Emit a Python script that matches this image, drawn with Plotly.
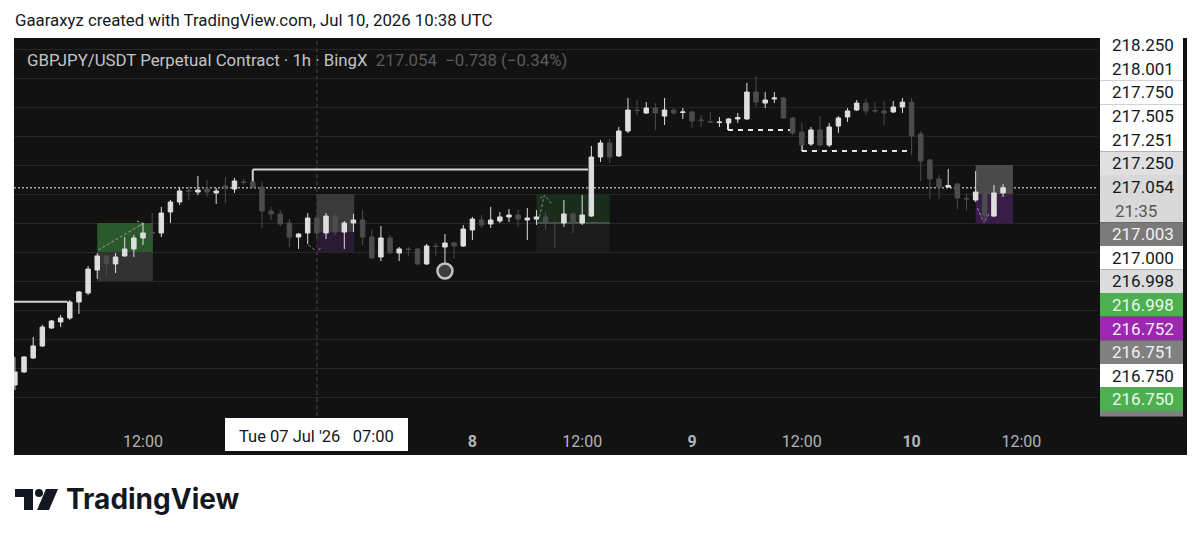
import plotly.graph_objects as go
import pandas as pd

# ---------------- data ----------------
times = pd.date_range("2026-07-05 22:00", periods=109, freq="h")

opens = [
    215.353, 215.466, 215.586, 215.690, 215.845, 215.897, 215.931, 216.069, 216.147, 216.345,
    216.466, 216.397, 216.466, 216.526, 216.621, 216.668, 216.664, 216.845, 216.931, 217.026,
    217.017, 217.043, 217.009, 217.069, 217.043, 217.103, 217.103, 217.060, 216.853, 216.828,
    216.750, 216.629, 216.664, 216.793, 216.664, 216.810, 216.672, 216.750, 216.776, 216.629,
    216.457, 216.621, 216.491, 216.526, 216.526, 216.397, 216.552, 216.543, 216.578, 216.552,
    216.690, 216.776, 216.741, 216.767, 216.802, 216.819, 216.776, 216.784, 216.802, 216.750,
    216.750, 216.828, 216.750, 216.810, 217.319, 217.440, 217.328, 217.543, 217.724, 217.698,
    217.741, 217.672, 217.724, 217.703, 217.707, 217.638, 217.625, 217.616, 217.612, 217.647,
    217.647, 217.879, 217.784, 217.819, 217.828, 217.655, 217.534, 217.431, 217.552, 217.422,
    217.586, 217.664, 217.724, 217.784, 217.720, 217.716, 217.707, 217.750, 217.792, 217.517,
    217.293, 217.129, 217.060, 217.086, 216.961, 216.948, 217.009, 216.810, 217.009]
highs = [
    215.595, 215.603, 215.767, 215.871, 215.914, 215.957, 216.086, 216.164, 216.379, 216.491,
    216.474, 216.491, 216.629, 216.647, 216.750, 216.836, 216.888, 216.948, 217.060, 217.060,
    217.155, 217.121, 217.052, 217.147, 217.138, 217.129, 217.112, 217.103, 216.888, 216.862,
    216.784, 216.664, 216.836, 216.819, 216.836, 216.836, 216.767, 216.828, 216.862, 216.690,
    216.724, 216.647, 216.543, 216.543, 216.534, 216.569, 216.578, 216.655, 216.586, 216.733,
    216.802, 216.819, 216.888, 216.845, 216.871, 216.862, 216.879, 216.862, 216.845, 216.776,
    216.948, 216.845, 216.991, 217.414, 217.466, 217.474, 217.578, 217.828, 217.810, 217.793,
    217.784, 217.828, 217.741, 217.741, 217.716, 217.681, 217.707, 217.664, 217.655, 217.698,
    217.957, 218.017, 217.879, 217.879, 217.836, 217.664, 217.612, 217.578, 217.672, 217.612,
    217.672, 217.741, 217.810, 217.819, 217.793, 217.802, 217.802, 217.828, 217.828, 217.543,
    217.302, 217.164, 217.216, 217.095, 217.009, 217.198, 217.017, 217.078, 217.086]
lows = [
    215.310, 215.457, 215.578, 215.681, 215.836, 215.853, 215.914, 215.966, 216.129, 216.267,
    216.284, 216.319, 216.457, 216.457, 216.560, 216.621, 216.629, 216.750, 216.905, 216.948,
    216.991, 216.974, 216.914, 216.922, 217.009, 217.078, 217.052, 216.707, 216.776, 216.724,
    216.543, 216.526, 216.569, 216.621, 216.612, 216.647, 216.526, 216.672, 216.560, 216.440,
    216.422, 216.483, 216.422, 216.466, 216.388, 216.388, 216.466, 216.405, 216.448, 216.543,
    216.603, 216.707, 216.707, 216.750, 216.759, 216.716, 216.603, 216.733, 216.690, 216.534,
    216.716, 216.664, 216.733, 216.802, 217.276, 217.267, 217.319, 217.526, 217.681, 217.690,
    217.552, 217.595, 217.681, 217.647, 217.569, 217.578, 217.612, 217.578, 217.552, 217.612,
    217.638, 217.750, 217.741, 217.784, 217.647, 217.509, 217.379, 217.414, 217.414, 217.405,
    217.526, 217.621, 217.716, 217.681, 217.698, 217.595, 217.698, 217.698, 217.336, 217.112,
    216.957, 216.957, 217.056, 216.871, 216.862, 216.931, 216.759, 216.802, 216.974]
closes = [
    215.466, 215.595, 215.690, 215.853, 215.905, 215.931, 216.069, 216.155, 216.353, 216.466,
    216.397, 216.457, 216.526, 216.621, 216.664, 216.662, 216.836, 216.931, 217.026, 217.024,
    217.034, 217.017, 217.026, 217.060, 217.112, 217.101, 217.060, 216.853, 216.828, 216.741,
    216.629, 216.655, 216.793, 216.664, 216.810, 216.672, 216.750, 216.776, 216.629, 216.448,
    216.621, 216.491, 216.526, 216.522, 216.397, 216.552, 216.547, 216.578, 216.552, 216.698,
    216.784, 216.733, 216.776, 216.802, 216.819, 216.784, 216.793, 216.802, 216.750, 216.746,
    216.828, 216.750, 216.819, 217.319, 217.440, 217.319, 217.543, 217.724, 217.720, 217.741,
    217.698, 217.724, 217.698, 217.707, 217.629, 217.634, 217.621, 217.621, 217.647, 217.659,
    217.879, 217.793, 217.810, 217.828, 217.655, 217.526, 217.422, 217.552, 217.422, 217.578,
    217.655, 217.716, 217.784, 217.716, 217.716, 217.698, 217.750, 217.792, 217.500, 217.284,
    217.129, 217.060, 217.073, 216.966, 216.957, 217.017, 216.810, 217.009, 217.054]

last_price = 217.054
x_range = ["2026-07-05 21:54:07", "2026-07-10 20:22:20"]
y_range = [215.069, 218.3448]

tick_vals = ["2026-07-06 12:00", "2026-07-08 00:00", "2026-07-08 12:00", "2026-07-09 00:00",
             "2026-07-09 12:00", "2026-07-10 00:00", "2026-07-10 12:00"]
tick_text = ["12:00", "<b>8</b>", "12:00", "<b>9</b>", "12:00", "<b>10</b>", "12:00"]

# position-tool zones: (start, end, low, high, colour)
zones = [
    ("2026-07-06 07:00", "2026-07-06 13:05", 216.50, 216.75, "#2c582d"),
    ("2026-07-06 07:00", "2026-07-06 13:05", 216.25, 216.50, "#323232"),
    ("2026-07-07 07:00", "2026-07-07 11:05", 216.672, 217.00, "#3a3a3a"),
    ("2026-07-07 07:00", "2026-07-07 11:05", 216.50, 216.672, "#2a1a33"),
    ("2026-07-08 07:00", "2026-07-08 15:00", 216.75, 217.00, "#1a2c1b"),
    ("2026-07-08 07:00", "2026-07-08 15:00", 216.50, 216.75, "#1b1b1b"),
    ("2026-07-10 07:00", "2026-07-10 11:05", 217.00, 217.25, "#4a4a4a"),
    ("2026-07-10 07:00", "2026-07-10 11:05", 216.75, 217.00, "#3a1c48"),
]
# solid level lines: (start, end, price, corner price)
solid_levels = [
    ("2026-07-05 21:00", "2026-07-06 03:45", 216.071, 216.045),
    ("2026-07-07 00:00", "2026-07-08 12:38", 217.211, 217.103),
]
dashed_levels = [
    ("2026-07-09 03:56", "2026-07-09 10:42", 217.552, 217.612),
    ("2026-07-09 12:01", "2026-07-10 00:03", 217.371, 217.422),
]
# small dashed arrows: list of segments ((t0,p0),(t1,p1)) and colour
arrows = [
    ([(("2026-07-06 07:08", 216.517), ("2026-07-06 12:02", 216.747)),
      (("2026-07-06 11:19", 216.767), ("2026-07-06 12:02", 216.747)),
      (("2026-07-06 11:40", 216.727), ("2026-07-06 12:02", 216.747))], "#86ad86"),
    ([(("2026-07-07 06:04", 216.560), ("2026-07-07 06:48", 216.517)),
      (("2026-07-07 07:10", 216.517), ("2026-07-07 07:32", 216.541))], "#8a8a8a"),
    ([(("2026-07-08 07:20", 216.804), ("2026-07-08 07:52", 216.991)),
      (("2026-07-08 07:24", 216.963), ("2026-07-08 07:52", 216.991)),
      (("2026-07-08 08:37", 216.920), ("2026-07-08 07:52", 216.991))], "#6f9a6f"),
    ([(("2026-07-10 07:11", 216.879), ("2026-07-10 07:55", 216.754)),
      (("2026-07-10 08:27", 216.828), ("2026-07-10 07:55", 216.754))], "#b48cc8"),
]
entry_line = ("2026-07-08 07:00", "2026-07-08 15:00", 216.75)
crosshair_time = "2026-07-07 07:00"
marker_time = ["2026-07-07 21:00"]
marker_price = [216.336]

price_label_texts = ["218.250", "218.001", "217.750", "217.505", "217.251", "217.250", "217.054",
                     "217.003", "217.000", "216.998", "216.998", "216.752", "216.751", "216.750", "216.750"]
price_label_bg = ["#ffffff"] * 5 + ["#e0e0e0", "#d9d9d9", "#7a7a7a", "#ffffff", "#dcdcdc",
                                    "#4caf50", "#9c27b0", "#808080", "#ffffff", "#4caf50"]
price_label_fg = ["#131722"] * 5 + ["#131722", "#131722", "#f2f2f2", "#131722", "#131722",
                                    "#eef7ee", "#f6eef8", "#f2f2f2", "#131722", "#eef7ee"]
countdown = "21:35"

title_text = "Gaaraxyz created with TradingView.com, Jul 10, 2026 10:38 UTC"
legend_main = "GBPJPY/USDT Perpetual Contract · 1h · BingX"
legend_vals = "217.054  −0.738 (−0.34%)"
crosshair_label = "Tue 07 Jul '26\u00a0\u00a0\u00a007:00"

# ---------------- figure ----------------
BG = "#121212"
FONT = "Roboto"
L, R, T, B = 14, 1098, 38, 418


def PX(px):
    return (px - L) / (R - L)


def PY(py):
    return (B - py) / (B - T)


fig = go.Figure()
fig.add_trace(go.Candlestick(
    x=times, open=opens, high=highs, low=lows, close=closes,
    increasing=dict(line=dict(color="#dedede", width=1), fillcolor="#dedede"),
    decreasing=dict(line=dict(color="#4c4c4c", width=1), fillcolor="#4c4c4c"),
    whiskerwidth=0, showlegend=False, hoverinfo="skip"))

fig.add_trace(go.Scatter(
    x=marker_time, y=marker_price, mode="markers", showlegend=False, hoverinfo="skip",
    marker=dict(size=15, color="#3e3e3e", line=dict(color="#c4c4c4", width=2.5))))

shapes = []
# dark panels outside the plot (time axis row, price column)
shapes.append(dict(type="rect", xref="paper", yref="paper", x0=PX(14), x1=PX(1187), y0=PY(455), y1=PY(418),
                   fillcolor=BG, line_width=0, layer="below"))
shapes.append(dict(type="rect", xref="paper", yref="paper", x0=PX(1098), x1=PX(1187), y0=PY(455), y1=PY(38),
                   fillcolor=BG, line_width=0, layer="below"))

for t0, t1, lo, hi, col in zones:
    shapes.append(dict(type="rect", xref="x", yref="y", x0=t0, x1=t1, y0=lo, y1=hi,
                       fillcolor=col, line_width=0, layer="between"))
shapes.append(dict(type="line", xref="x", yref="y", x0=entry_line[0], x1=entry_line[1],
                   y0=entry_line[2], y1=entry_line[2], line=dict(color="#7a7a7a", width=1), layer="between"))

for t0, t1, p, pc in solid_levels:
    shapes.append(dict(type="line", xref="x", yref="y", x0=t0, x1=t1, y0=p, y1=p,
                       line=dict(color="#d4d4d4", width=2), layer="between"))
    shapes.append(dict(type="line", xref="x", yref="y", x0=t0, x1=t0, y0=p, y1=pc,
                       line=dict(color="#d4d4d4", width=2), layer="between"))
for t0, t1, p, pc in dashed_levels:
    shapes.append(dict(type="line", xref="x", yref="y", x0=t0, x1=t1, y0=p, y1=p,
                       line=dict(color="#e6e6e6", width=2, dash="5px,5px"), layer="between"))
    shapes.append(dict(type="line", xref="x", yref="y", x0=t0, x1=t0, y0=p, y1=pc,
                       line=dict(color="#e6e6e6", width=2), layer="between"))
for segs, col in arrows:
    for (a, b) in segs:
        shapes.append(dict(type="line", xref="x", yref="y", x0=a[0], y0=a[1], x1=b[0], y1=b[1],
                           line=dict(color=col, width=1, dash="3px,2px"), layer="between"))

# crosshair & last price line
shapes.append(dict(type="line", xref="x", yref="paper", x0=crosshair_time, x1=crosshair_time, y0=PY(451), y1=1,
                   line=dict(color="#4a4a4a", width=1, dash="4px,3px"), layer="between"))
shapes.append(dict(type="line", xref="paper", yref="y", x0=0, x1=1, y0=last_price, y1=last_price,
                   line=dict(color="#a8a8a8", width=1.5, dash="2px,2px"), layer="between"))

annotations = []
# price labels column
slot_h = 23.6
top0 = 33.5
slot = 0
for txt, bg, fg in zip(price_label_texts, price_label_bg, price_label_fg):
    span = 2 if txt == f"{last_price:.3f}" and slot == 6 else 1
    y_top = top0 + slot * slot_h
    y_bot = y_top + span * slot_h
    shapes.append(dict(type="rect", xref="paper", yref="paper", x0=PX(1100), x1=PX(1183),
                       y0=PY(y_bot), y1=PY(max(y_top, 38)), fillcolor=bg, line_width=0, layer="above"))
    annotations.append(dict(xref="paper", yref="paper", x=PX(1143), y=PY(y_top + slot_h / 2), text=txt,
                            showarrow=False, font=dict(family=FONT, size=17, color=fg),
                            xanchor="center", yanchor="middle"))
    if span == 2:
        annotations.append(dict(xref="paper", yref="paper", x=PX(1136), y=PY(y_top + 1.5 * slot_h), text=countdown,
                                showarrow=False, font=dict(family=FONT, size=17, color="#555555"),
                                xanchor="center", yanchor="middle"))
    slot += span
shapes.append(dict(type="rect", xref="paper", yref="paper", x0=PX(1100), x1=PX(1183),
                   y0=PY(416.5), y1=PY(top0 + slot * slot_h), fillcolor="#808080", line_width=0, layer="above"))

# crosshair time label
shapes.append(dict(type="rect", xref="paper", yref="paper", x0=PX(225), x1=PX(408), y0=PY(451), y1=PY(418),
                   fillcolor="#ffffff", line_width=0, layer="above"))
annotations.append(dict(xref="paper", yref="paper", x=PX(316.5), y=PY(436), text=crosshair_label,
                        showarrow=False, font=dict(family=FONT, size=16.5, color="#131722"),
                        xanchor="center", yanchor="middle"))

# header and legend
annotations.append(dict(xref="paper", yref="paper", x=PX(13), y=PY(20), text=title_text, showarrow=False,
                        font=dict(family=FONT, size=16.8, color="#131722"), xanchor="left", yanchor="middle"))
annotations.append(dict(xref="paper", yref="paper", x=PX(25), y=PY(60),
                        text=f"{legend_main}  <span style='color:#5c5c5c'>{legend_vals}</span>",
                        showarrow=False, font=dict(family=FONT, size=16.8, color="#c4c4c4"),
                        xanchor="left", yanchor="middle"))

# TradingView logo
DARK = "#131722"
shapes.append(dict(type="rect", xref="paper", yref="paper", x0=PX(15), x1=PX(33), y0=PY(497), y1=PY(489),
                   fillcolor=DARK, line_width=0))
shapes.append(dict(type="rect", xref="paper", yref="paper", x0=PX(24), x1=PX(33), y0=PY(510), y1=PY(489),
                   fillcolor=DARK, line_width=0))
shapes.append(dict(type="circle", xref="paper", yref="paper", x0=PX(35), x1=PX(43), y0=PY(497), y1=PY(489),
                   fillcolor=DARK, line_width=0))
shapes.append(dict(type="path", xref="paper", yref="paper",
                   path=f"M {PX(46)} {PY(489)} L {PX(58)} {PY(489)} L {PX(49)} {PY(510)} L {PX(37)} {PY(510)} Z",
                   fillcolor=DARK, line_width=0))
annotations.append(dict(xref="paper", yref="paper", x=PX(64), y=PY(499), text="<b>TradingView</b>",
                        showarrow=False, font=dict(family="Inter", size=28, color=DARK),
                        xanchor="left", yanchor="middle"))

fig.update_layout(
    width=1200, height=541,
    margin=dict(l=L, r=1200 - R, t=T, b=541 - B),
    paper_bgcolor="#ffffff", plot_bgcolor=BG,
    font=dict(family=FONT),
    shapes=shapes, annotations=annotations,
    showlegend=False,
    xaxis=dict(range=x_range, rangeslider=dict(visible=False), showgrid=False, zeroline=False,
               tickmode="array", tickvals=tick_vals, ticktext=tick_text,
               ticks="outside", ticklen=9, tickcolor="rgba(0,0,0,0)",
               tickfont=dict(family=FONT, size=16, color="#b4b4b4"), showline=False, fixedrange=True),
    yaxis=dict(range=y_range, side="right", showticklabels=False, showgrid=True, gridcolor="#262626",
               gridwidth=1, tick0=217.0, dtick=0.25, zeroline=False, showline=False, fixedrange=True),
)

fig.write_html("out.html")
